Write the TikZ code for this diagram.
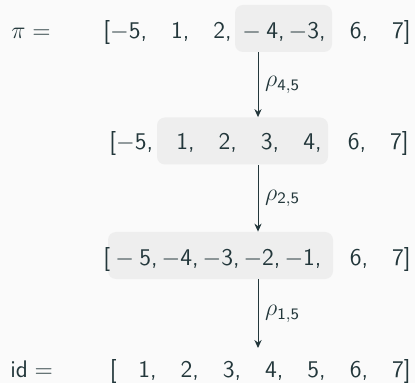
\documentclass[tikz,border=0pt]{standalone}
\usepackage{fontspec}
\usetikzlibrary{arrows.meta}
\definecolor{mdarkteal}{HTML}{23373B}
\definecolor{mbackground}{HTML}{FAFAFA}
\definecolor{hlgray}{HTML}{EEEEEE}
\newcommand{\pgap}{,\quad}
\newcommand{\tgap}{,\,}
\newcommand{\bmin}{$-$\hspace{.22em}}

\tikzset{
  perm/.style={anchor=base west, inner sep=0pt, text=mdarkteal},
  permend/.style={perm, anchor=base east},
  hlbox/.style={fill=hlgray, rounded corners=4pt, inner sep=0pt,
    minimum height=23.5pt},
  rho/.style={-{Stealth[length=4pt,width=3.6pt]}, draw=mdarkteal, line width=0.5pt},
}

\begin{document}
\begin{tikzpicture}[x=0.5pt, y=-0.5pt, font=\fontsize{12}{14}\selectfont\sffamily]
  \fill[mbackground] (0,0) rectangle (415,383);

  % highlighted blocks
  \node[hlbox, minimum width=48.5pt] (box1) at (283.5,28.5) {};
  \node[hlbox, minimum width=85.5pt] (box2) at (242.5,141) {};
  \node[hlbox, minimum width=112.5pt] (box3) at (220.5,255.5) {};

  % row 1: pi
  \node[perm] (pilabel) at (11,39) {$\pi =$};
  \node[perm] (r1left) at (103,39) {[$-$5\pgap 1\pgap 2,};
  \node[perm] (r1mid) at (242,39) {\bmin 4\tgap$-$3,};
  \node[permend] (r1right) at (411,39) {6\pgap 7]};

  % row 2
  \node[perm] (r2left) at (109,150) {[$-$5,};
  \node[perm] (r2mid) at (176,150) {1\pgap 2\pgap 3\pgap 4,};
  \node[permend] (r2right) at (409,150) {6\pgap 7]};

  % row 3
  \node[perm] (r3left) at (103,265) {[};
  \node[perm] (r3mid) at (115,265) {\bmin 5\tgap$-$4\tgap$-$3\tgap$-$2\tgap$-$1,};
  \node[permend] (r3right) at (411,265) {6\pgap 7]};

  % row 4: identity
  \node[perm] (idlabel) at (10,377) {$\mathsf{id} =$};
  \node[permend] (r4) at (411,377) {[\hspace{.9em}1\pgap 2\pgap 3\pgap 4\pgap 5\pgap 6\pgap 7]};

  % reversals
  \coordinate (acol) at (258,0);
  \coordinate (idtop) at (258,348);
  \draw[rho] (box1.south -| acol) -- node[right, text=mdarkteal] {$\rho_{\mathsf{4,5}}$} (box2.north -| acol);
  \draw[rho] (box2.south -| acol) -- node[right, text=mdarkteal] {$\rho_{\mathsf{2,5}}$} (box3.north -| acol);
  \draw[rho] (box3.south -| acol) -- node[right, text=mdarkteal] {$\rho_{\mathsf{1,5}}$} (idtop);
\end{tikzpicture}
\end{document}
